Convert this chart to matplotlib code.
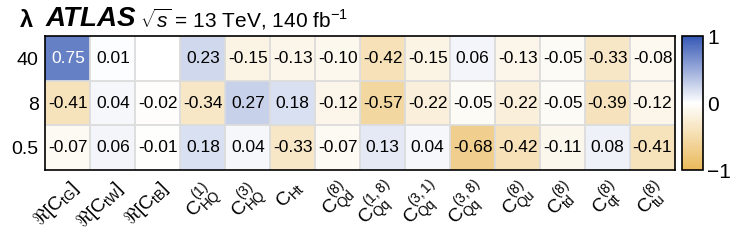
import numpy as np
import matplotlib.pyplot as plt
from matplotlib.colors import LinearSegmentedColormap

plt.rcParams['font.family'] = ['Liberation Sans', 'DejaVu Sans']
plt.rcParams['mathtext.fontset'] = 'custom'
plt.rcParams['mathtext.rm'] = 'Liberation Sans'
plt.rcParams['mathtext.it'] = 'Liberation Sans'
plt.rcParams['mathtext.sf'] = 'Liberation Sans:italic'
plt.rcParams['mathtext.bf'] = 'Liberation Sans:bold'

# data
coeffs = [r'$\Re[C_{tG}]$', r'$\Re[C_{tW}]$', r'$\Re[C_{tB}]$',
          r'$C_{HQ}^{(1)}$', r'$C_{HQ}^{(3)}$', r'$C_{Ht}$',
          r'$C_{Qd}^{(8)}$', r'$C_{Qq}^{(1,8)}$', r'$C_{Qq}^{(3,1)}$',
          r'$C_{Qq}^{(3,8)}$', r'$C_{Qu}^{(8)}$', r'$C_{td}^{(8)}$',
          r'$C_{qt}^{(8)}$', r'$C_{tu}^{(8)}$']
lambdas = ['40', '8', '0.5']
row_40 = [0.75, 0.01, np.nan, 0.23, -0.15, -0.13, -0.10, -0.42, -0.15, 0.06, -0.13, -0.05, -0.33, -0.08]
row_8 = [-0.41, 0.04, -0.02, -0.34, 0.27, 0.18, -0.12, -0.57, -0.22, -0.05, -0.22, -0.05, -0.39, -0.12]
row_05 = [-0.07, 0.06, -0.01, 0.18, 0.04, -0.33, -0.07, 0.13, 0.04, -0.68, -0.42, -0.11, 0.08, -0.41]

Z = np.array([row_40, row_8, row_05])

cmap = LinearSegmentedColormap.from_list('ob', ['#eab95a', '#ffffff', '#3658b5'])
cmap.set_bad('white')

fig = plt.figure(figsize=(7.48, 2.42), dpi=100)
ax = fig.add_axes([0.0608, 0.2975, 0.8416, 0.5537])
cax = fig.add_axes([0.9118, 0.2975, 0.028, 0.5537])

im = ax.imshow(np.ma.masked_invalid(Z), cmap=cmap, vmin=-1, vmax=1, aspect='auto')

# cell grid
nr, nc = Z.shape
for i in range(1, nc):
    ax.axvline(i - 0.5, color='#dcdcdc', lw=1.3)
for j in range(1, nr):
    ax.axhline(j - 0.5, color='#dcdcdc', lw=1.3)

for j in range(nr):
    for i in range(nc):
        v = Z[j, i]
        if np.isnan(v):
            continue
        ax.text(i, j, f'{v:.2f}', ha='center', va='center', fontsize=12.5,
                color='white' if v > 0.6 else 'black')

ax.set_xticks(range(nc))
ax.set_xticklabels(coeffs, rotation=45, ha='right', rotation_mode='anchor', fontsize=14)
ax.set_yticks(range(nr))
ax.set_yticklabels(lambdas, fontsize=14)
ax.tick_params(length=0, pad=5)
for s in ax.spines.values():
    s.set_linewidth(1.2)

cb = fig.colorbar(im, cax=cax, ticks=[-1, 0, 1])
cb.ax.set_yticklabels(['\u22121', '0', '1'], fontsize=15)
cb.ax.tick_params(length=0, pad=3)
cb.outline.set_linewidth(1.2)

fig.text(0.026, 0.915, '\u03bb', fontsize=17, fontweight='bold', va='center', ha='left')
fig.text(0.061, 0.92, 'ATLAS', fontsize=20, fontweight='bold', style='italic', va='center', ha='left')
fig.text(0.187, 0.92, r'$\sqrt{\mathsf{s}}$ = 13 TeV, 140 fb$^{-1}$', fontsize=15, va='center', ha='left')

fig.savefig('out.png', dpi=100)
